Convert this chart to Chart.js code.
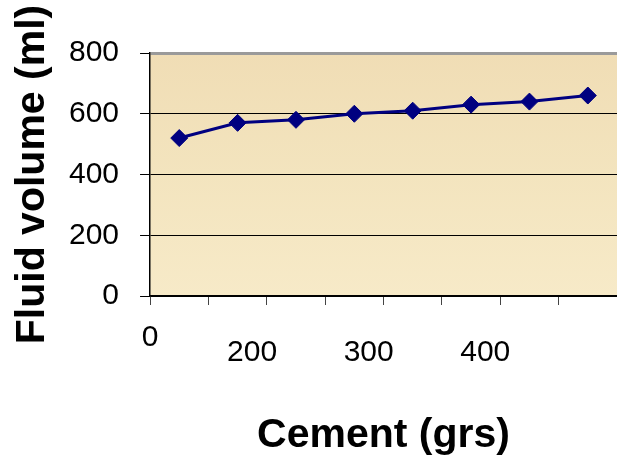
<!DOCTYPE html>
<html>
<head>
<meta charset="utf-8">
<script src="https://cdn.jsdelivr.net/npm/chart.js@4/dist/chart.umd.min.js"></script>
<style>
  html, body { margin: 0; padding: 0; background: #fff; }
  #wrap { width: 617px; height: 460px; }
</style>
</head>
<body>
<div id="wrap"><canvas id="fluidChart" width="617" height="460"></canvas></div>
<script>
    // Samples (categories) and measured fluid volume (ml)
    const samples = ['1', '2', '3', '4', '5', '6', '7', '8'];
    const fluidVolume = [520, 570, 580, 600, 610, 630, 640, 660];

    // Tick labels
    const yTicks = [0, 200, 400, 600, 800];
    const cementTicks = [200, 300, 400];   // labels under the x axis (grs)
    const originLabel = '0';

    const FONT = "'Liberation Sans', Arial, sans-serif";

    // Parchment-like fill behind the plot area
    const plotBackground = {
        id: 'plotBackground',
        beforeDraw(chart) {
            const { ctx, chartArea: a } = chart;
            const g = ctx.createLinearGradient(0, a.top, 0, a.bottom);
            g.addColorStop(0, '#f0ddb5');
            g.addColorStop(0.5, '#f3e4be');
            g.addColorStop(1, '#f7eac8');
            ctx.save();
            ctx.fillStyle = g;
            ctx.fillRect(a.left, a.top, a.right - a.left, a.bottom - a.top);
            ctx.restore();
        }
    };

    const ctx = document.getElementById('fluidChart').getContext('2d');

    new Chart(ctx, {
        type: 'line',
        data: {
            labels: samples,
            datasets: [{
                data: fluidVolume,
                borderColor: '#000080',
                backgroundColor: '#000080',
                borderWidth: 3,
                tension: 0,
                pointStyle: 'rectRot',
                pointRadius: 8.5,
                pointBorderWidth: 1,
                pointBackgroundColor: '#000080',
                pointBorderColor: '#000080',
                clip: false
            }]
        },
        options: {
            responsive: false,
            animation: false,
            layout: { autoPadding: false, padding: { top: 53, right: 0, bottom: 0, left: 0 } },
            plugins: {
                legend: { display: false },
                tooltip: { enabled: false }
            },
            scales: {
                x: {
                    type: 'category',
                    offset: true,
                    weight: 0,
                    ticks: { display: false },
                    grid: {
                        offset: true,
                        drawOnChartArea: false,
                        drawTicks: true,
                        tickLength: 9,
                        color: '#444',
                        tickColor: '#444'
                    },
                    border: { display: true, color: '#000', width: 1.5 }
                },
                x2: {
                    type: 'linear',
                    position: 'bottom',
                    weight: 1,
                    min: 112.5,
                    max: 513,
                    afterBuildTicks: scale => {
                        scale.ticks = [scale.min, ...cementTicks].map(v => ({ value: v }));
                    },
                    ticks: {
                        autoSkip: false,
                        maxRotation: 0,
                        padding: 25,
                        color: '#000',
                        font: { family: FONT, size: 30, lineHeight: 0.5 },
                        callback: (v, i) => i === 0 ? originLabel : ['', String(v)]
                    },
                    grid: { display: false, drawTicks: false },
                    border: { display: false },
                    title: {
                        display: true,
                        text: 'Cement (grs)',
                        color: '#000',
                        font: { family: FONT, size: 41, weight: 'bold' },
                        padding: { top: 25.8, bottom: 0 }
                    }
                },
                y: {
                    min: 0,
                    max: 800,
                    afterBuildTicks: scale => {
                        scale.ticks = yTicks.map(v => ({ value: v }));
                    },
                    ticks: {
                        color: '#000',
                        padding: 21,
                        font: { family: FONT, size: 30 }
                    },
                    grid: {
                        color: c => c.tick && c.tick.value === 800 ? '#9a9a9a' : '#000',
                        lineWidth: c => c.tick && c.tick.value === 800 ? 3 : 1,
                        tickColor: '#000',
                        tickWidth: 1,
                        tickLength: 10
                    },
                    border: { display: true, color: '#000', width: 1.5 },
                    title: {
                        display: true,
                        text: 'Fluid volume (ml)',
                        color: '#000',
                        font: { family: FONT, size: 41, weight: 'bold' },
                        padding: { top: 8.4, bottom: -9.6 }
                    }
                }
            }
        },
        plugins: [plotBackground]
    });
</script>
</body>
</html>
